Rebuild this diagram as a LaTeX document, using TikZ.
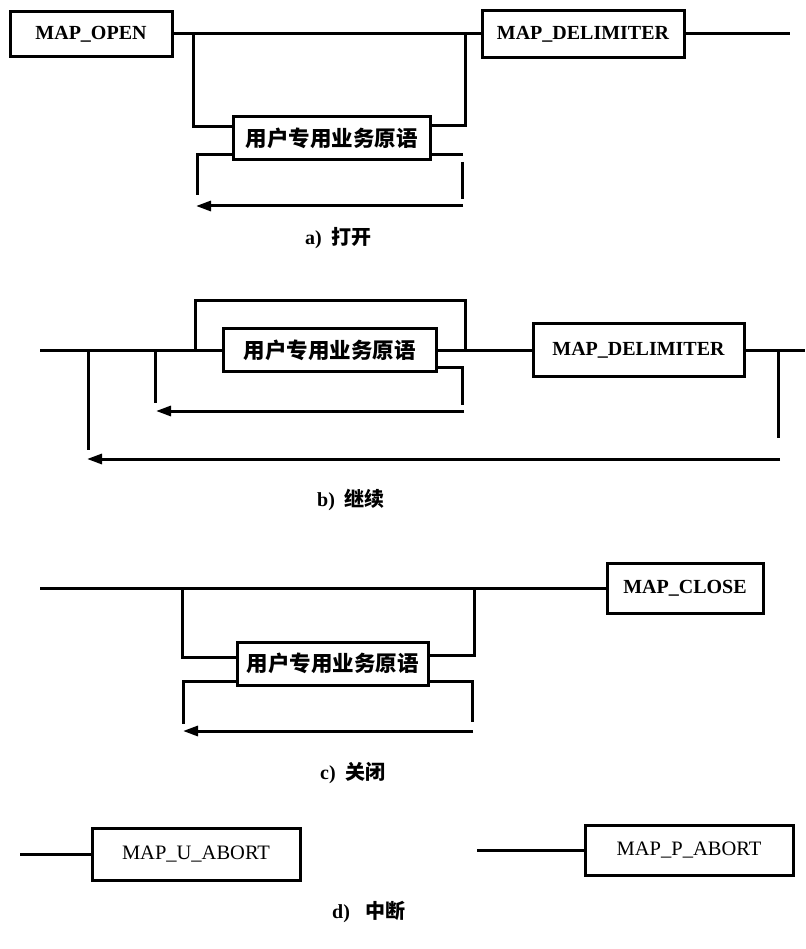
\documentclass[tikz,border=0pt]{standalone}
\usepackage{fontspec}
\setmainfont{Liberation Serif}
\newfontfamily\cjk{Noto Sans CJK SC}
\usetikzlibrary{arrows.meta}
\tikzset{
  ln/.style={line width=3pt, line cap=butt},
  arr/.style={ln, -{Triangle[length=15pt,width=10pt]}},
  box/.style={draw, line width=3pt, rectangle, inner sep=0pt,
    font=\bfseries\fontsize{20}{24}\selectfont},
  dbox/.style={draw, line width=3pt, rectangle, inner sep=0pt,
    font=\fontsize{20.5}{24}\selectfont},
  ubox/.style={draw, line width=3pt, rectangle, inner sep=0pt,
    font=\cjk\bfseries\fontsize{21.5}{25}\selectfont},
  captxt/.style={inner sep=0pt, anchor=west, font=\bfseries\fontsize{20}{24}\selectfont}
}
\begin{document}
\begin{tikzpicture}[x=1pt,y=-1pt]
\fill[white] (0,0) rectangle (805,949);
\useasboundingbox (0,0) rectangle (805,949);

% ---------------- a) ----------------
\node[box, minimum width=162pt, minimum height=45pt] (open) at (91,34) {MAP\_OPEN};
\node[box, minimum width=202pt, minimum height=47pt] (delimA) at (583,34) {MAP\_DELIMITER};
\node[ubox, minimum width=197pt, minimum height=43pt] (userA) at (331.5,138.5) {用户专用业务原语};
\coordinate (aEnd) at (790,34);
\coordinate (aTL) at (193,34);
\coordinate (aTR) at (465,34);
\coordinate (aBL) at (197,195);
\coordinate (aBR) at (463,155);
\coordinate (aR1) at (462,162);
\coordinate (aR2) at (462,199);
\coordinate (aA1) at (463,206);
\coordinate (aA2) at (196,206);
\draw[ln] (open.east) -- (delimA.west);
\draw[ln] (delimA.east) -- (aEnd);
\draw[ln] (aTL) |- ([yshift=11.5pt]userA.west);
\draw[ln] ([yshift=12.5pt]userA.east) -| (aTR);
\draw[ln] ([yshift=-16.5pt]userA.west) -| (aBL);
\draw[ln] ([yshift=-16.5pt]userA.east) -- (aBR);
\draw[ln] (aR1) -- (aR2);
\draw[arr] (aA1) -- (aA2);
\node[captxt] (capA) at (305,238) {a)\hspace{0.5em}{\cjk 打开}};

% ---------------- b) ----------------
\node[ubox, minimum width=213pt, minimum height=43pt] (userB) at (329.5,350) {用户专用业务原语};
\node[box, minimum width=211pt, minimum height=53pt] (delimB) at (638.5,350) {MAP\_DELIMITER};
\coordinate (bStart) at (40,350);
\coordinate (bEnd) at (805,350);
\coordinate (bT1) at (195,350);
\coordinate (bT2) at (465,350);
\coordinate (bTR) at (465,300);
\coordinate (bV1) at (155,350);
\coordinate (bV2) at (155,403);
\coordinate (bLR) at (462,405);
\coordinate (bA1) at (464,411);
\coordinate (bA2) at (156,411);
\coordinate (bW1) at (88,350);
\coordinate (bW2) at (88,450);
\coordinate (bE1) at (778,350);
\coordinate (bE2) at (778,438);
\coordinate (bL1) at (780,459);
\coordinate (bL2) at (87,459);
\draw[ln] (bStart) -- (userB.west);
\draw[ln] (userB.east) -- (delimB.west);
\draw[ln] (delimB.east) -- (bEnd);
\draw[ln] (bT1) |- (bTR) -- (bT2);
\draw[ln] (bV1) -- (bV2);
\draw[ln] ([yshift=-17pt]userB.east) -| (bLR);
\draw[arr] (bA1) -- (bA2);
\draw[ln] (bW1) -- (bW2);
\draw[ln] (bE1) -- (bE2);
\draw[arr] (bL1) -- (bL2);
\node[captxt] (capB) at (317,500) {b)\hspace{0.5em}{\cjk 继续}};

% ---------------- c) ----------------
\node[box, minimum width=156pt, minimum height=50pt] (closeC) at (685,588) {MAP\_CLOSE};
\node[ubox, minimum width=191pt, minimum height=43pt] (userC) at (332.5,663.5) {用户专用业务原语};
\coordinate (cStart) at (40,588);
\coordinate (cTL) at (182,588);
\coordinate (cTR) at (474,588);
\coordinate (cBL) at (183,724);
\coordinate (cBR) at (472,722);
\coordinate (cA1) at (473,731);
\coordinate (cA2) at (183,731);
\draw[ln] (cStart) -- (closeC.west);
\draw[ln] (cTL) |- ([yshift=6.5pt]userC.west);
\draw[ln] ([yshift=8.5pt]userC.east) -| (cTR);
\draw[ln] ([yshift=-17.5pt]userC.west) -| (cBL);
\draw[ln] ([yshift=-17.5pt]userC.east) -| (cBR);
\draw[arr] (cA1) -- (cA2);
\node[captxt] (capC) at (320,773) {c)\hspace{0.5em}{\cjk 关闭}};

% ---------------- d) ----------------
\node[dbox, minimum width=208pt, minimum height=52pt] (uab) at (196,854) {MAP\_U\_ABORT};
\node[dbox, minimum width=208pt, minimum height=50pt] (pab) at (689,850) {MAP\_P\_ABORT};
\coordinate (dL1) at (20,854);
\coordinate (dL2) at (477,850);
\draw[ln] (dL1) -- (uab.west);
\draw[ln] (dL2) -- (pab.west);
\node[captxt] (capD) at (332,912) {d)\hspace{0.8em}{\cjk 中断}};
\end{tikzpicture}
\end{document}
